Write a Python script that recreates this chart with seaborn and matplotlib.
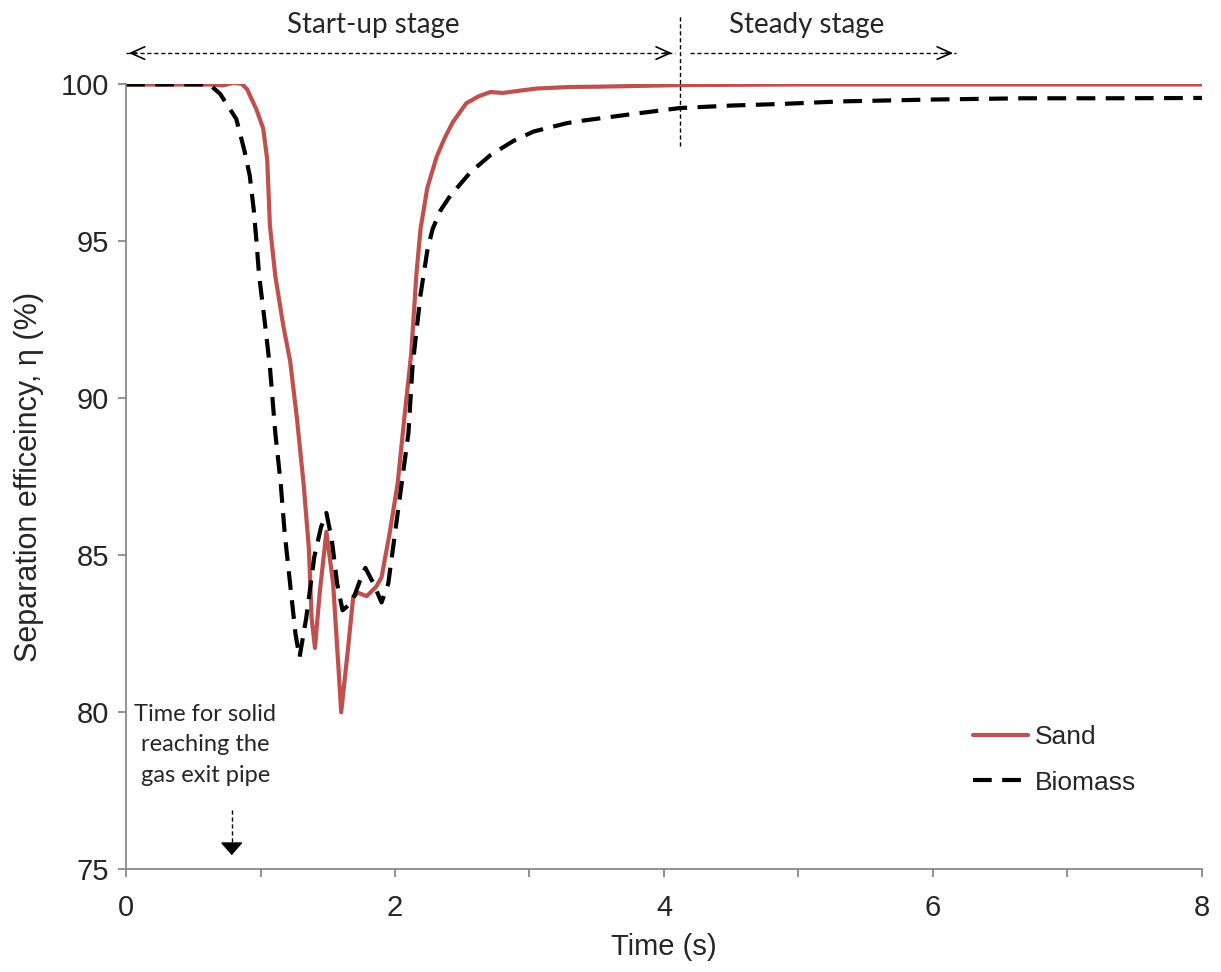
import pandas as pd
import matplotlib.pyplot as plt
import seaborn as sns

# separation efficiency
sand_t = [0.0, 0.3, 0.62, 0.72, 0.80, 0.86, 0.90, 0.97, 1.02, 1.05, 1.07, 1.11, 1.17, 1.22,
          1.27, 1.32, 1.36, 1.38, 1.405, 1.44, 1.49, 1.54, 1.58, 1.60, 1.65, 1.69, 1.73,
          1.79, 1.86, 1.90, 1.96, 2.02, 2.07, 2.12, 2.16, 2.19, 2.24, 2.31, 2.37, 2.43,
          2.53, 2.62, 2.71, 2.80, 3.05, 3.30, 3.52, 4.12, 5.0, 6.0, 7.0, 8.0]
sand_eff = [100.0, 100.0, 100.0, 99.97, 100.05, 100.02, 99.85, 99.2, 98.6, 97.6, 95.5, 93.9,
            92.3, 91.2, 89.4, 87.3, 85.2, 83.0, 82.05, 83.8, 85.75, 84.1, 81.4, 80.0, 82.0,
            83.7, 83.8, 83.7, 84.0, 84.3, 85.7, 87.3, 89.4, 91.4, 94.0, 95.4, 96.7, 97.7,
            98.3, 98.8, 99.4, 99.62, 99.76, 99.73, 99.87, 99.92, 99.93, 99.98, 100.0, 100.0,
            100.0, 100.0]

bio_t = [0.0, 0.3, 0.62, 0.70, 0.82, 0.88, 0.92, 0.95, 0.97, 0.99, 1.03, 1.07, 1.11, 1.15,
         1.18, 1.22, 1.26, 1.29, 1.34, 1.40, 1.45, 1.49, 1.53, 1.57, 1.61, 1.68, 1.74, 1.78,
         1.84, 1.90, 1.95, 2.00, 2.05, 2.10, 2.13, 2.19, 2.24, 2.28, 2.34, 2.41, 2.56, 2.71,
         2.88, 3.03, 3.28, 3.40, 3.77, 4.12, 4.51, 4.88, 5.31, 6.0, 6.67, 7.3, 8.0]
bio_eff = [100.0, 100.0, 100.0, 99.7, 98.9, 97.9, 97.1, 96.0, 95.0, 93.9, 92.5, 91.0, 88.9,
           87.3, 85.7, 84.1, 82.5, 81.75, 83.0, 84.95, 85.9, 86.35, 85.5, 84.1, 83.25, 83.5,
           84.2, 84.6, 84.1, 83.5, 84.1, 85.7, 87.3, 88.9, 91.0, 93.3, 94.7, 95.4, 96.0,
           96.45, 97.2, 97.75, 98.2, 98.5, 98.77, 98.85, 99.06, 99.25, 99.33, 99.38, 99.46,
           99.52, 99.56, 99.56, 99.57]

sand = pd.DataFrame({'t': sand_t, 'eff': sand_eff})
bio = pd.DataFrame({'t': bio_t, 'eff': bio_eff})

sns.set_style('ticks')
plt.rcParams['font.family'] = ['Liberation Sans', 'DejaVu Sans']
note_font = ['Lato', 'DejaVu Sans']

fig = plt.figure(figsize=(12.21, 9.72), dpi=100)
ax = fig.add_axes([0.1032, 0.1057, 0.8812, 0.8074])

sns.lineplot(data=sand, x='t', y='eff', ax=ax, color='#C0504D', lw=3,
             estimator=None, label='Sand')
sns.lineplot(data=bio, x='t', y='eff', ax=ax, color='black', lw=3,
             estimator=None, label='Biomass', dashes=False)
ax.lines[1].set_dashes((4.5, 2.5))

ax.set_xlim(0, 8)
ax.set_ylim(75, 100)
ax.set_xticks([0, 2, 4, 6, 8])
ax.set_xticks([1, 3, 5, 7], minor=True)
ax.set_yticks([75, 80, 85, 90, 95, 100])
ax.tick_params(axis='both', which='both', direction='out', length=6, width=1.2,
               color='#7f7f7f', labelsize=21)
ax.tick_params(axis='x', pad=12)
ax.tick_params(axis='y', pad=6)
for side in ['left', 'bottom']:
    ax.spines[side].set_color('#7f7f7f')
    ax.spines[side].set_linewidth(1.2)
sns.despine(ax=ax)

ax.set_xlabel('Time (s)', fontsize=21, labelpad=8)
ax.set_ylabel('Separation efficeincy, η (%)', fontsize=22, labelpad=12)

leg = ax.legend(loc='upper left', bbox_to_anchor=(0.775, 0.20), frameon=False,
                fontsize=19, handlelength=2.1, handletextpad=0.25, labelspacing=0.8,
                borderpad=0)

# stage markers above the plot
dash_kw = dict(color='black', lw=1, ls=(0, (3, 2)), clip_on=False)
head_kw = dict(arrowstyle='->,head_length=1.0,head_width=0.45', color='black', lw=1.2)
ax.plot([4.12, 4.12], [98.05, 102.2], **dash_kw)
ax.plot([0.0, 4.08], [101.0, 101.0], **dash_kw)
ax.plot([4.19, 6.17], [101.0, 101.0], **dash_kw)
ax.annotate('', xy=(0.0, 101.0), xytext=(0.1, 101.0), arrowprops=head_kw,
            annotation_clip=False)
ax.annotate('', xy=(4.08, 101.0), xytext=(3.98, 101.0), arrowprops=head_kw,
            annotation_clip=False)
ax.annotate('', xy=(6.17, 101.0), xytext=(6.07, 101.0), arrowprops=head_kw,
            annotation_clip=False)
ax.text(1.84, 101.9, 'Start-up stage', ha='center', va='center', fontsize=20,
        family=note_font)
ax.text(5.06, 101.9, 'Steady stage', ha='center', va='center', fontsize=20,
        family=note_font)

# time for solid reaching the exit
ax.text(0.59, 78.96, 'Time for solid\nreaching the\ngas exit pipe', ha='center',
        va='center', fontsize=17, linespacing=1.55, family=note_font)
ax.plot([0.786, 0.786], [76.9, 75.6], color='black', lw=1, ls=(0, (3, 2)))
ax.annotate('', xy=(0.786, 75.36), xytext=(0.786, 75.75),
            arrowprops=dict(arrowstyle='-|>,head_length=0.4,head_width=0.35',
                            mutation_scale=20, color='black', lw=1))

fig.savefig('out.png', dpi=100)
